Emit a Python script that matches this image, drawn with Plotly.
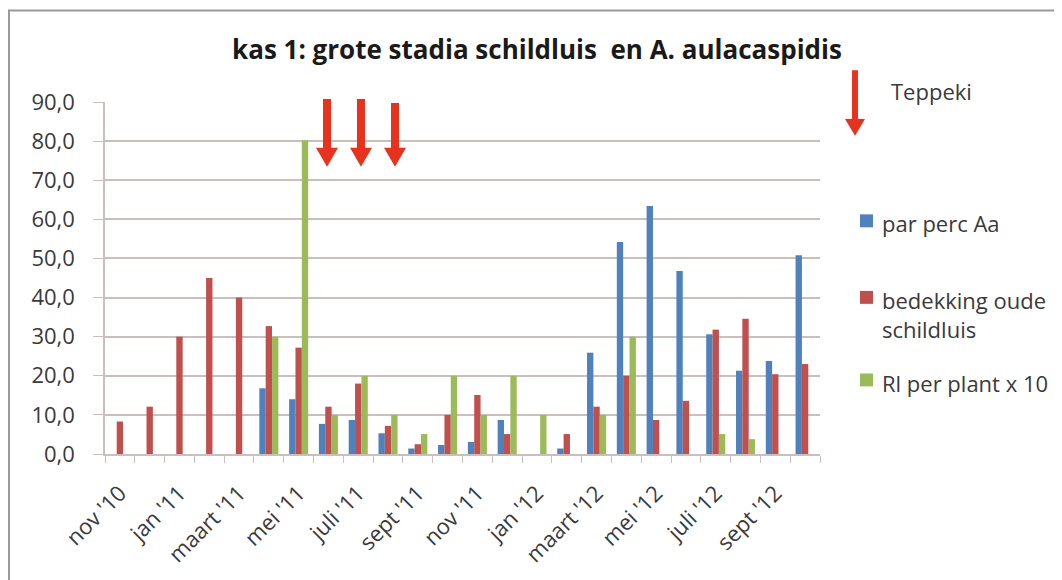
import plotly.graph_objects as go

MONTHS = ["nov '10", "dec '10", "jan '11", "feb '11", "maart '11", "april '11",
          "mei '11", "juni '11", "juli '11", "aug '11", "sept '11", "okt '11",
          "nov '11", "dec '11", "jan '12", "feb '12", "maart '12", "april '12",
          "mei '12", "juni '12", "juli '12", "aug '12", "sept '12", "okt '12"]
TICK_TEXT = [m if i % 2 == 0 else "" for i, m in enumerate(MONTHS)]

par_perc_aa = [0, 0, 0, 0, 0, 16.8, 14.0, 7.7, 8.7, 5.3, 1.4, 2.3,
               3.1, 8.7, 0, 1.4, 25.9, 54.2, 63.4, 46.8, 30.6, 21.3, 23.8, 50.8]
bedekking = [8.3, 12.1, 30.0, 45.0, 40.0, 32.7, 27.2, 12.1, 18.0, 7.2, 2.5, 10.0,
             15.1, 5.1, 0, 5.1, 12.1, 20.0, 8.7, 13.6, 31.8, 34.6, 20.4, 23.0]
rl_per_plant = [0, 0, 0, 0, 0, 30.0, 80.2, 10.0, 20.0, 10.0, 5.1, 20.0,
                10.0, 20.0, 10.0, 0, 10.0, 30.0, 0, 0, 5.1, 3.8, 0, 0]

SERIES = [
    ("par perc Aa", par_perc_aa, "#4F81BD"),
    ("bedekking oude<br>schildluis", bedekking, "#C0504D"),
    ("Rl per plant x 10", rl_per_plant, "#9BBB59"),
]
LEGEND_Y = [222, 299, 382]  # first text line of each legend entry

FONT = "Open Sans, DejaVu Sans, sans-serif"
GRID = "#c9c0be"
TXT = "#3a3a3a"

# the page puts the figure 8px in from the top left
OFF = 8
W, H = 1062, 580
# plot area, in screen pixels
L, R, T, B = 105, 820, 102, 456


def px(x):
    return (x - L) / (R - L)


def py(y):
    return (B - y) / (B - T)


def arrow(cx, top, bottom, shaft, head_w, head_h):
    s, hw = shaft / 2, head_w / 2
    hb = bottom - head_h
    pts = [(cx - s, top), (cx + s, top), (cx + s, hb), (cx + hw, hb),
           (cx, bottom), (cx - hw, hb), (cx - s, hb)]
    return "M " + " L ".join(f"{px(x):.4f},{py(y):.4f}" for x, y in pts) + " Z"


fig = go.Figure()
for name, vals, color in SERIES:
    fig.add_trace(go.Bar(
        name=name, x=MONTHS, y=vals,
        marker=dict(color=color, line=dict(width=0)),
        showlegend=False,
    ))

shapes = [
    dict(type="rect", xref="paper", yref="paper",
         x0=px(9), x1=px(1075), y0=py(10), y1=py(595),
         line=dict(color="#9a9a9a", width=2), layer="below"),
]
for cx, top in [(327, 99), (361, 99), (395, 103)]:
    shapes.append(dict(type="path", xref="paper", yref="paper",
                       path=arrow(cx, top, 167, 8, 22, 19),
                       fillcolor="#e8321e", line=dict(width=0)))
shapes.append(dict(type="path", xref="paper", yref="paper",
                   path=arrow(855, 70, 136, 6, 20, 17),
                   fillcolor="#e8321e", line=dict(width=0)))

annotations = [
    dict(text="Teppeki", xref="paper", yref="paper", x=px(889), y=py(91),
         xanchor="left", yanchor="middle", showarrow=False,
         font=dict(size=22, color=TXT)),
]

# legend drawn by hand so the spacing follows the original
for (name, vals, color), ly in zip(SERIES, LEGEND_Y):
    shapes.append(dict(type="rect", xref="paper", yref="paper",
                       x0=px(860), x1=px(873), y0=py(ly - 7), y1=py(ly + 6),
                       fillcolor=color, line=dict(width=0)))
    annotations.append(dict(text=name, xref="paper", yref="paper",
                            x=px(880), y=py(ly - 15), xanchor="left",
                            yanchor="top", align="left", showarrow=False,
                            font=dict(size=22, color=TXT)))

fig.update_layout(
    width=W - OFF, height=H - OFF,
    margin=dict(l=L - OFF, r=W - R, t=T - OFF, b=H - B),
    paper_bgcolor="#ffffff", plot_bgcolor="#ffffff",
    font=dict(family=FONT, size=16, color=TXT),
    separators=",.",
    barmode="group", bargap=0.36, bargroupgap=0,
    title=dict(text="<b>kas 1: grote stadia schildluis  en A. aulacaspidis</b>",
               x=(537 - OFF) / (W - OFF), xanchor="center",
               y=1 - (50 - OFF) / (H - OFF), yanchor="middle",
               font=dict(size=26, color="#1a1a1a", family=FONT)),
    xaxis=dict(
        type="category", tickmode="array", tickvals=MONTHS, ticktext=TICK_TEXT,
        tickson="boundaries", ticks="outside", ticklen=7, tickcolor=GRID,
        tickangle=-45, showgrid=False, showline=True, linecolor=GRID,
        linewidth=1.5, tickfont=dict(size=22, color=TXT),
        ticklabelstandoff=16,
    ),
    yaxis=dict(
        range=[0, 90], dtick=10, tickformat=".1f", showgrid=True,
        gridcolor=GRID, gridwidth=1.5, ticks="outside", ticklen=10,
        tickcolor=GRID, showline=True, linecolor=GRID, linewidth=1.5,
        zeroline=False, tickfont=dict(size=22, color=TXT),
        ticklabelstandoff=14,
    ),
    annotations=annotations,
    shapes=shapes,
)

fig.write_html("out.html")
